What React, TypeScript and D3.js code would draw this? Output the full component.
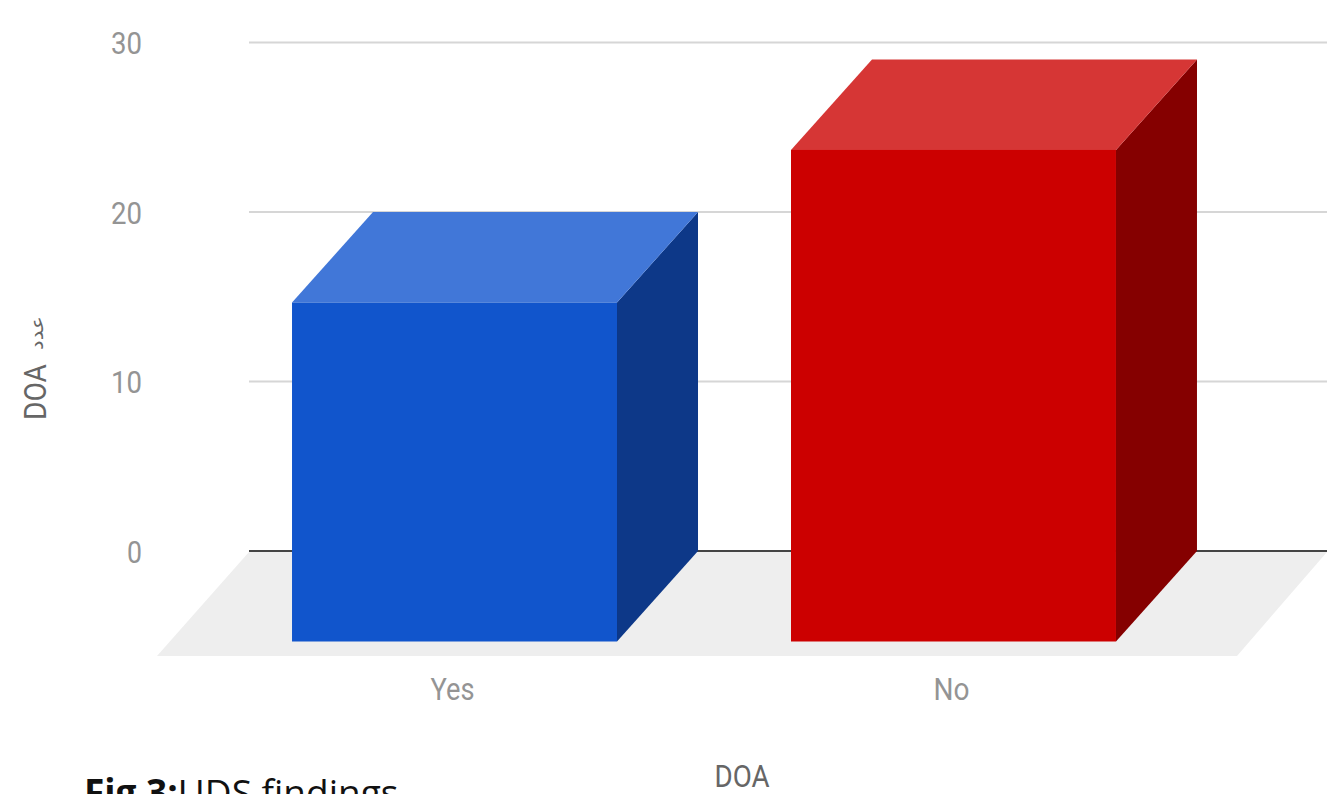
import React from "react";
import * as d3 from "d3";

const categories = ["Yes", "No"];
const counts = [20, 29];
const frontColors = ["#1155cc", "#cc0000"];
const topColors = ["#4177d8", "#d63635"];
const sideColors = ["#0d3888", "#850000"];
const yTicks = [0, 10, 20, 30];

const WIDTH = 1327;
const HEIGHT = 794;
// Depth vector of the 3D bars, from the front face to the back face
const DEPTH_X = 81;
const DEPTH_Y = -90.5;

const y = d3.scaleLinear().domain([0, 30]).range([551, 42.5]);
const x = d3.scaleBand().domain(categories).range([205, 1203]).paddingInner(0.3487).paddingOuter(0.1744);

const poly = d3.line();
const labelFont = "Roboto, sans-serif";
const tickGrey = "#949494";

export default function App() {
  const frontBase = y(0) - DEPTH_Y;
  return (
    <svg
      width={WIDTH}
      height={HEIGHT}
      viewBox={`0 0 ${WIDTH} ${HEIGHT}`}
      style={{ position: "fixed", left: 0, top: 0, background: "#fff" }}
    >
      {yTicks.map((t) => (
        <g key={t}>
          <line x1={249} x2={WIDTH} y1={y(t)} y2={y(t)} stroke={t === 0 ? "#444444" : "#d6d6d6"} strokeWidth={2} />
          <text
            x={142}
            y={y(t) + 11.5}
            textAnchor="end"
            fontFamily={labelFont}
            fontSize={31}
            fill={tickGrey}
            textLength={t === 0 ? 15 : 31}
            lengthAdjust="spacingAndGlyphs"
          >
            {t}
          </text>
        </g>
      ))}

      {/* Floor of the 3D plot */}
      <path
        d={poly([[249, 552], [1327, 552], [1237, 656], [157, 656]]) + "Z"}
        fill="#eeeeee"
      />

      {categories.map((c, i) => {
        const x0 = x(c)!;
        const x1 = x0 + x.bandwidth();
        const top = frontBase - (y(0) - y(counts[i]));
        return (
          <g key={c}>
            <path
              d={poly([[x1, top], [x1 + DEPTH_X, top + DEPTH_Y], [x1 + DEPTH_X, frontBase + DEPTH_Y], [x1, frontBase]]) + "Z"}
              fill={sideColors[i]}
            />
            <path
              d={poly([[x0, top], [x0 + DEPTH_X, top + DEPTH_Y], [x1 + DEPTH_X, top + DEPTH_Y], [x1, top]]) + "Z"}
              fill={topColors[i]}
            />
            <rect x={x0} y={top} width={x.bandwidth()} height={frontBase - top} fill={frontColors[i]} />
            <text
              x={(x0 + x1) / 2 - 2}
              y={700}
              textAnchor="middle"
              fontFamily={labelFont}
              fontSize={31}
              fill={tickGrey}
              textLength={c === "Yes" ? 44 : 36}
              lengthAdjust="spacingAndGlyphs"
            >
              {c}
            </text>
          </g>
        );
      })}

      {/* Axis titles */}
      <text
        x={742}
        y={787}
        textAnchor="middle"
        fontFamily={labelFont}
        fontSize={31}
        fill="#666666"
        textLength={55}
        lengthAdjust="spacingAndGlyphs"
      >
        DOA
      </text>
      <text
        transform="translate(46,420) rotate(-90)"
        fontFamily={labelFont}
        fontSize={31}
        fill="#666666"
        textLength={56}
        lengthAdjust="spacingAndGlyphs"
      >
        DOA
      </text>
      <text
        transform="translate(43,350) rotate(-90)"
        fontFamily="'DejaVu Sans', sans-serif"
        fontSize={18}
        fill="#666666"
        textLength={34}
        lengthAdjust="spacingAndGlyphs"
      >
        عدد
      </text>

      {/* Caption, running off the lower edge */}
      <text x={84} y={806} fontFamily="'Open Sans', sans-serif" fontSize={37} fill="#111111">
        <tspan fontWeight={700}>Fig 3:</tspan>
        <tspan>UDS findings</tspan>
      </text>
    </svg>
  );
}
